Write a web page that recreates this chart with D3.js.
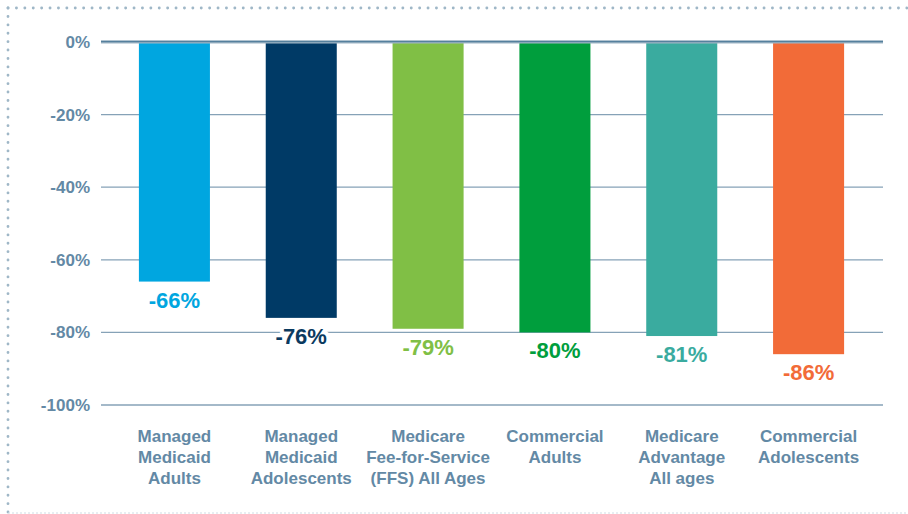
<!DOCTYPE html>
<html>
<head>
<meta charset="utf-8">
<script src="https://cdn.jsdelivr.net/npm/d3@7"></script>
<style>
  body { margin: 0; background: #fff; }
  text { font-family: "Liberation Sans", Arial, sans-serif; font-weight: bold; }
</style>
</head>
<body>
<div id="container"></div>
<script>
/* DATA */
const categories = [
  ["Managed", "Medicaid", "Adults"],
  ["Managed", "Medicaid", "Adolescents"],
  ["Medicare", "Fee-for-Service", "(FFS) All Ages"],
  ["Commercial", "Adults"],
  ["Medicare", "Advantage", "All ages"],
  ["Commercial", "Adolescents"]
];
const values = [-66, -76, -79, -80, -81, -86];
const barColors = ["#00a6e0", "#003a66", "#80bf45", "#009e3d", "#3aab9f", "#f26b38"];
const labelColors = ["#00a6e0", "#0b3a5f", "#80bf45", "#009e3d", "#3aab9f", "#f26b38"];
const yTicks = [0, -20, -40, -60, -80, -100];

/* CONSTANTS */
const width = 908, height = 514;
const axisColor = "#6389a5";

const svg = d3.select("#container").append("svg")
  .attr("width", width)
  .attr("height", height);

// dotted frame
const dot = "#9fb7c7";
svg.append("line").attr("x1", 8).attr("x2", width).attr("y1", 8).attr("y2", 8)
  .attr("stroke", dot).attr("stroke-width", 2.8).attr("stroke-linecap", "round")
  .attr("stroke-dasharray", "0.1 8.3");
svg.append("line").attr("x1", 8).attr("x2", 8).attr("y1", 8).attr("y2", height)
  .attr("stroke", dot).attr("stroke-width", 2.8).attr("stroke-linecap", "round")
  .attr("stroke-dasharray", "0.1 8.3");
svg.append("line").attr("x1", 8).attr("x2", width).attr("y1", 513).attr("y2", 513)
  .attr("stroke", "#cfdbe3").attr("stroke-width", 1)
  .attr("stroke-dasharray", "2 2");

/* SCALES */
const x = d3.scaleBand()
  .domain(d3.range(values.length))
  .range([111, 872])
  .paddingInner(0.44)
  .paddingOuter(0.22);

const y = d3.scaleLinear()
  .domain([0, -100])
  .range([42, 405]);

// grid lines
svg.append("g")
  .selectAll("line")
  .data(yTicks.filter(d => d !== 0))
  .join("line")
  .attr("x1", 101).attr("x2", 883)
  .attr("y1", d => y(d)).attr("y2", d => y(d))
  .attr("stroke", "#86a2b7")
  .attr("stroke-width", 1.3);

// y axis labels
svg.append("g")
  .selectAll("text")
  .data(yTicks)
  .join("text")
  .attr("x", 90)
  .attr("y", d => y(d) + 6)
  .attr("text-anchor", "end")
  .attr("font-size", 17)
  .attr("fill", axisColor)
  .text(d => d + "%");

// bars
svg.append("g")
  .selectAll("rect")
  .data(values)
  .join("rect")
  .attr("x", (d, i) => x(i))
  .attr("y", y(0))
  .attr("width", x.bandwidth())
  .attr("height", d => y(d) - y(0))
  .attr("fill", (d, i) => barColors[i]);

// zero line
svg.append("line")
  .attr("x1", 101).attr("x2", 883)
  .attr("y1", y(0)).attr("y2", y(0))
  .attr("stroke", "#9fb6c6").attr("stroke-width", 3);
svg.append("line")
  .attr("x1", 101).attr("x2", 883)
  .attr("y1", y(0) - 0.5).attr("y2", y(0) - 0.5)
  .attr("stroke", "#55809d").attr("stroke-width", 1.5);

// value labels (white halo so they sit over gridlines)
svg.append("g")
  .selectAll("text")
  .data(values)
  .join("text")
  .attr("x", (d, i) => x(i) + x.bandwidth() / 2)
  .attr("y", d => y(d) + 26)
  .attr("text-anchor", "middle")
  .attr("font-size", 22)
  .attr("fill", (d, i) => labelColors[i])
  .attr("stroke", "#fff")
  .attr("stroke-width", 8)
  .attr("paint-order", "stroke")
  .text(d => d + "%");

// category labels
svg.append("g")
  .selectAll("text")
  .data(categories)
  .join("text")
  .attr("text-anchor", "middle")
  .attr("font-size", 17)
  .attr("fill", axisColor)
  .each(function(lines, i) {
    d3.select(this).selectAll("tspan")
      .data(lines)
      .join("tspan")
      .attr("x", x(i) + x.bandwidth() / 2)
      .attr("y", (l, j) => 442 + j * 21)
      .text(l => l);
  });
</script>
</body>
</html>
